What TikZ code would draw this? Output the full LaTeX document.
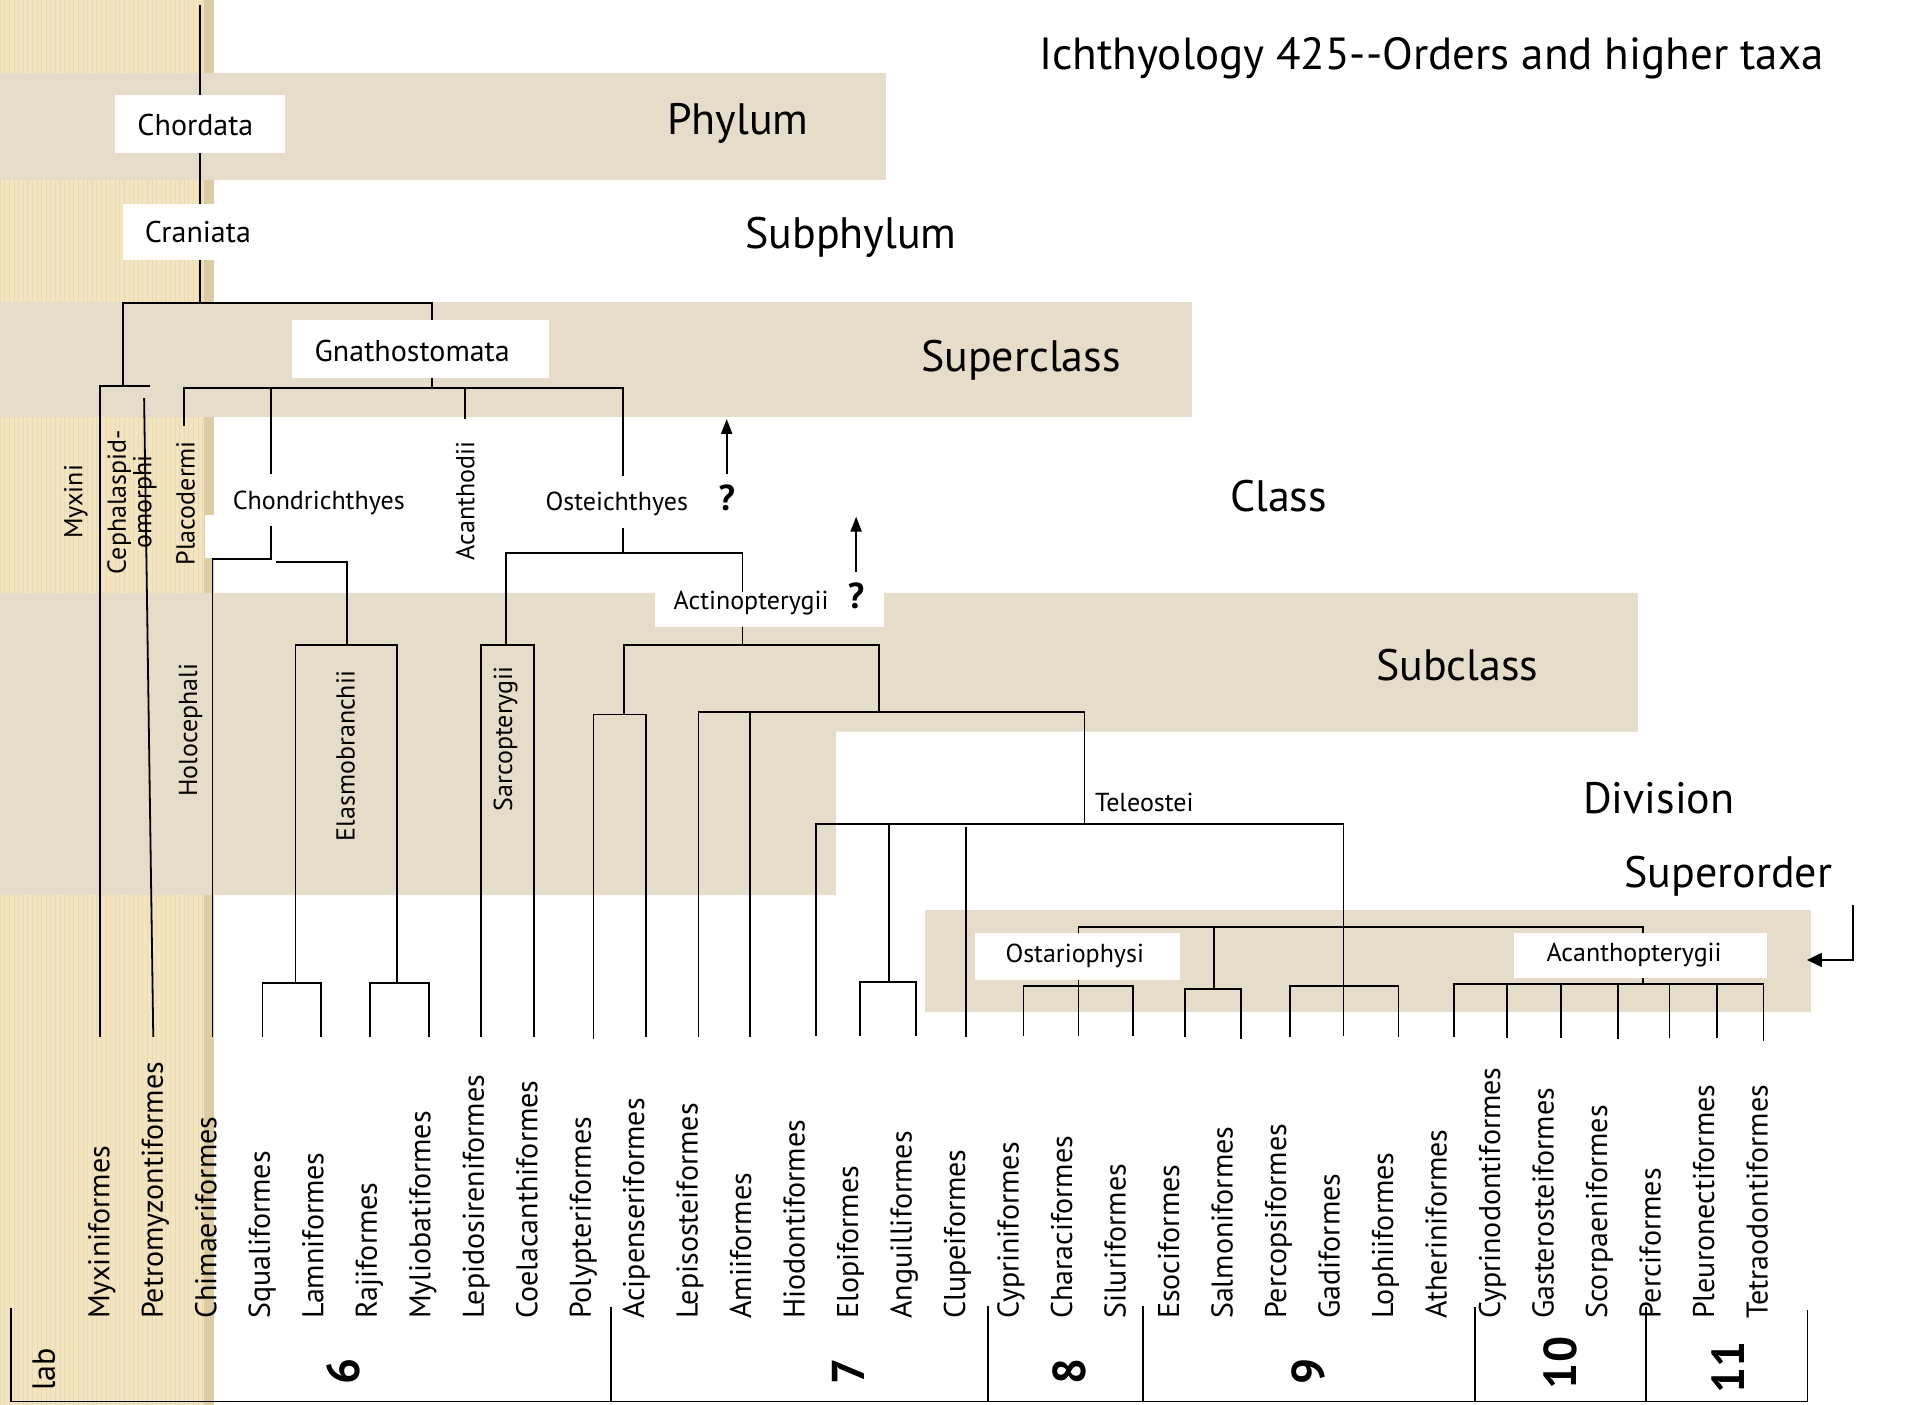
\documentclass[tikz,border=0pt]{standalone}
\usepackage{fontspec}
\setmainfont{PT Sans}
\usetikzlibrary{arrows.meta}
\definecolor{bandc}{HTML}{E5DDC9}
\definecolor{stripec}{HTML}{F4E5C2}
\definecolor{stripeg}{HTML}{EADAB0}
\definecolor{stripee}{HTML}{DDCCA3}
\begin{document}
\begin{tikzpicture}[x=1.2213pt,y=-1.2213pt,
  tree/.style={line width=1.8pt},
  arr/.style={line width=2pt,-{Triangle[length=15pt,width=11pt]}},
  wbox/.style={fill=white,draw=none},
  band/.style={fill=bandc,draw=none},
  ordl/.style={rotate=90,anchor=base west,inner sep=0pt,font=\fontsize{30}{36}\selectfont},
  sml/.style={inner sep=0pt,font=\fontsize{26}{28}\selectfont},
  smlv/.style={sml,rotate=90},
  mid/.style={inner sep=0pt,font=\fontsize{30}{32}\selectfont},
  rank/.style={anchor=base west,inner sep=0pt,font=\fontsize{44}{48}\selectfont},
  grp/.style={rotate=90,inner sep=0pt,font=\bfseries\fontsize{46}{48}\selectfont},
  qm/.style={inner sep=0pt,font=\bfseries\fontsize{36}{36}\selectfont}]

% ---------- background ----------
\useasboundingbox (0,0) rectangle (1568,1150);
\fill[white] (0,0) rectangle (1568,1150);
\fill[stripec] (0,0) rectangle (175,1150);
\draw[stripeg,line width=0.6pt,step=3.77] (0,0) grid (175,1150);
\fill[stripee] (167,0) rectangle (175,1150);
\fill[band] (0,59.5) rectangle (725.5,147.5);
\fill[band] (0,247.6) rectangle (976,341.5);
\fill[band] (0,485.5) -- (1341,485.5) -- (1341,599) -- (684.5,599) -- (684.5,733) -- (0,733) -- cycle;
\fill[band] (757,745) rectangle (1483,829);
\fill[white] (168,422) rectangle (182,457);

% ---------- coordinates ----------
\coordinate (top) at (164,4);
\coordinate (cran) at (164,248);
\coordinate (cyL) at (101,248);
\coordinate (cyR) at (354,248);
\coordinate (agn) at (101,316);
\coordinate (myxL) at (82,316);
\coordinate (cepR) at (123,316);
\coordinate (cepT) at (118,326);
\coordinate (gnB) at (354,318);
\coordinate (gnL) at (150.7,318);
\coordinate (gnR) at (510,318);
\coordinate (plaB) at (150.7,349);
\coordinate (chT) at (222,318);
\coordinate (chA) at (222,388);
\coordinate (acT) at (381,318);
\coordinate (acB) at (381,343);
\coordinate (osA) at (510,390);
\coordinate (chB) at (222,431);
\coordinate (chJ) at (222,457.5);
\coordinate (hoJ) at (174,457.5);
\coordinate (elJ) at (226,460);
\coordinate (elK) at (284,460);
\coordinate (elT) at (284,528);
\coordinate (osB) at (510,432);
\coordinate (osJ) at (510,453);
\coordinate (saJ) at (414,453);
\coordinate (acJ) at (608,453);
\coordinate (saT) at (414,528);
\coordinate (acM) at (608,528);
\coordinate (acL) at (511,528);
\coordinate (acR) at (720,528);
\coordinate (poJ) at (511,585);
\coordinate (neJ) at (720,583);
\coordinate (teT) at (888,583);
\coordinate (teJ) at (888,675);
\coordinate (elo) at (728,675);
\coordinate (eloB) at (728,804);
\coordinate (clT) at (791,677);
\coordinate (soL) at (883,759);
\coordinate (soR) at (1345,759);
\coordinate (soM) at (994,759);
\coordinate (osaB) at (883,807);
\coordinate (esB) at (994,810);
\coordinate (acaB) at (1345,806);
\coordinate (elmL) at (242,528);
\coordinate (elmR) at (325,528);
\coordinate (sqJ) at (242,805);
\coordinate (raJ) at (325,805);

% leaf tips (bottom of tree lines)
\coordinate (L0) at (82,849);
\coordinate (L1) at (125.5,849);
\coordinate (L2) at (174,849);
\coordinate (L3) at (215,849);
\coordinate (L4) at (263,849);
\coordinate (L5) at (303,849);
\coordinate (L6) at (351,849);
\coordinate (L7) at (394,849);
\coordinate (L8) at (437,849);
\coordinate (L9) at (486,851);
\coordinate (L10) at (529,849);
\coordinate (L11) at (572,849);
\coordinate (L12) at (614,849);
\coordinate (L13) at (668,848);
\coordinate (L14) at (704,848);
\coordinate (L15) at (750,848);
\coordinate (L16) at (791,849);
\coordinate (L17) at (838,848);
\coordinate (L18) at (883,848);
\coordinate (L19) at (928,848);
\coordinate (L20) at (970,849);
\coordinate (L21) at (1016,851);
\coordinate (L22) at (1056,849);
\coordinate (L23) at (1100,848);
\coordinate (L24) at (1145,849);
\coordinate (L25) at (1190.5,849);
\coordinate (L26) at (1234,850);
\coordinate (L27) at (1278,850);
\coordinate (L28) at (1325,851);
\coordinate (L29) at (1367,850);
\coordinate (L30) at (1406,850);
\coordinate (L31) at (1444,852);

% ---------- tree ----------
\draw[tree] (top) -- (cran);
\draw[tree] (agn) -- (cyL) -- (cyR) -- (gnB);
\draw[tree] (L0) -- (myxL) -- (cepR);
\draw[tree] (cepT) -- (L1);
\draw[tree] (plaB) -- (gnL) -- (gnR) -- (osA);
\draw[tree] (chT) -- (chA);
\draw[tree] (acT) -- (acB);
\draw[tree] (chB) -- (chJ) -- (hoJ) -- (L2);
\draw[tree] (elJ) -- (elK) -- (elT);
\draw[tree] (sqJ) -- (elmL) -- (elmR) -- (raJ);
\draw[tree] (L3) |- (sqJ) -| (L4);
\draw[tree] (L5) |- (raJ) -| (L6);
\draw[tree] (osB) -- (osJ);
\draw[tree] (saT) -- (saJ) -- (acJ) -- (acM);
\draw[tree] (L7) |- (saT) -| (L8);
\draw[tree] (poJ) -- (acL) -- (acR) -- (neJ);
\draw[tree] (L9) |- (poJ) -| (L10);
\draw[tree] (L11) |- (teT) -- (teJ);
\draw[tree] (neJ -| L12) -- (L12);
\draw[tree] (L13) |- (teJ) -| (L23);
\draw[tree] (elo) -- (eloB);
\draw[tree] (L14) |- (eloB) -| (L15);
\draw[tree] (clT) -- (L16);
\draw[tree] (osaB) -- (soL) -- (soR) -- (acaB);
\draw[tree] (L17) |- (osaB) -| (L19);
\draw[tree] (osaB) -- (L18);
\draw[tree] (soM) -- (esB);
\draw[tree] (L20) |- (esB) -| (L21);
\draw[tree] (L22) |- (L23 |- osaB) -| (L24);
\draw[tree] (L25) |- (acaB) -| (L31);
\foreach \k in {26,27,28,29,30} { \draw[tree] (L\k |- acaB) -- (L\k); }

% ---------- arrows ----------
\coordinate (q1B) at (595,388);
\coordinate (q1T) at (595,343);
\coordinate (q2B) at (701,468);
\coordinate (q2T) at (701,423);
\draw[arr] (q1B) -- (q1T);
\draw[arr] (q2B) -- (q2T);
\coordinate (soA) at (1517,741);
\coordinate (soK) at (1517,786);
\coordinate (soTip) at (1479.5,786);
\draw[line width=2pt,-{Triangle[length=15pt,width=14pt]}] (soA) -- (soK) -- (soTip);

% ---------- label boxes ----------
\fill[wbox] (94,78) rectangle (233,125);
\fill[wbox] (101,167) rectangle (230,213);
\fill[wbox] (239,262) rectangle (449.5,309.5);
\fill[wbox] (536,485) rectangle (724,513);
\fill[wbox] (798,764) rectangle (966,802);
\fill[wbox] (1240,764) rectangle (1447,801);

% ---------- texts ----------
\node[rank,font=\fontsize{45}{48}\selectfont] (title) at (851,57) {Ichthyology 425-{}-Orders and higher taxa};
\node[rank] (phylum) at (546,110.5) {Phylum};
\node[rank] (subphylum) at (610,203.5) {Subphylum};
\node[rank] (superclass) at (754,304.5) {Superclass};
\node[rank] (class) at (1007,419) {Class};
\node[rank] (subclass) at (1126.5,557) {Subclass};
\node[rank] (division) at (1296,666) {Division};
\node[rank] (superorder) at (1330,726.5) {Superorder};

\node[mid] (chordata) at (160,102) {Chordata};
\node[mid] (craniata) at (162,190) {Craniata};
\node[mid] (gnatho) at (337.5,287) {Gnathostomata};
\node[sml] (chondr) at (261,412) {Chondrichthyes};
\node[sml] (osteich) at (505,413) {Osteichthyes};
\node[sml] (actino) at (615,494) {Actinopterygii};
\node[sml] (teleo) at (937,657) {Teleostei};
\node[sml] (ostario) at (880,783) {Ostariophysi};
\node[sml] (acantho) at (1338,782) {Acanthopterygii};
\node[qm] (q1) at (595,408) {?};
\node[qm] (q2) at (701,488) {?};

\node[smlv] (myxini) at (62,411) {Myxini};
\node[smlv,align=center,font=\fontsize{26}{25.6}\selectfont] (cephal) at (108,411) {Cephalaspid-\\omorphi};
\node[smlv] (placo) at (152,412) {Placodermi};
\node[smlv] (acanthod) at (381,410) {Acanthodii};
\node[smlv] (holoc) at (156,598) {Holocephali};
\node[smlv] (elasmo) at (283,619) {Elasmobranchii};
\node[smlv] (sarco) at (414,605) {Sarcopterygii};

% order labels
\foreach \k/\t in {0/Myxiniformes,1/Petromyzontiformes,2/Chimaeriformes,3/Squaliformes,
  4/Lamniformes,5/Rajiformes,6/Myliobatiformes,7/Lepidosireniformes,8/Coelacanthiformes,
  9/Polypteriformes,10/Acipenseriformes,11/Lepisosteiformes,12/Amiiformes,13/Hiodontiformes,
  14/Elopiformes,15/Anguilliformes,16/Clupeiformes,17/Cypriniformes,18/Characiformes,
  19/Siluriformes,20/Esociformes,21/Salmoniformes,22/Percopsiformes,23/Gadiformes,
  24/Lophiiformes,25/Atheriniformes,26/Cyprinodontiformes,27/Gasterosteiformes,
  28/Scorpaeniformes,29/Perciformes,30/Pleuronectiformes,31/Tetraodontiformes}
  { \node[ordl] (o\k) at ({89.5+43.8*\k},1080) {\t}; }

% ---------- lab groups ----------
\coordinate (g0) at (9,1071);
\coordinate (g0b) at (9,1147.5);
\coordinate (g7b) at (1480,1147.5);
\coordinate (g7) at (1480,1073);
\draw[tree] (g0) -- (g0b) -- (g7b) -- (g7);
\foreach \x/\y in {500/1070,809/1069,936/1069,1208/1070,1348/1070}
  { \coordinate (d\x) at (\x,\y); \draw[tree] (d\x) -- (d\x |- g0b); }
\node[rotate=90,anchor=base west,inner sep=0pt,font=\fontsize{32}{34}\selectfont] (lab) at (45,1139) {lab};
\node[grp] (g6) at (281,1123) {6};
\node[grp] (g7n) at (695,1123) {7};
\node[grp] (g8) at (876,1123) {8};
\node[grp] (g9) at (1071,1123) {9};
\node[grp] (g10) at (1278,1116) {10};
\node[grp] (g11) at (1415,1120) {11};
\end{tikzpicture}
\end{document}
